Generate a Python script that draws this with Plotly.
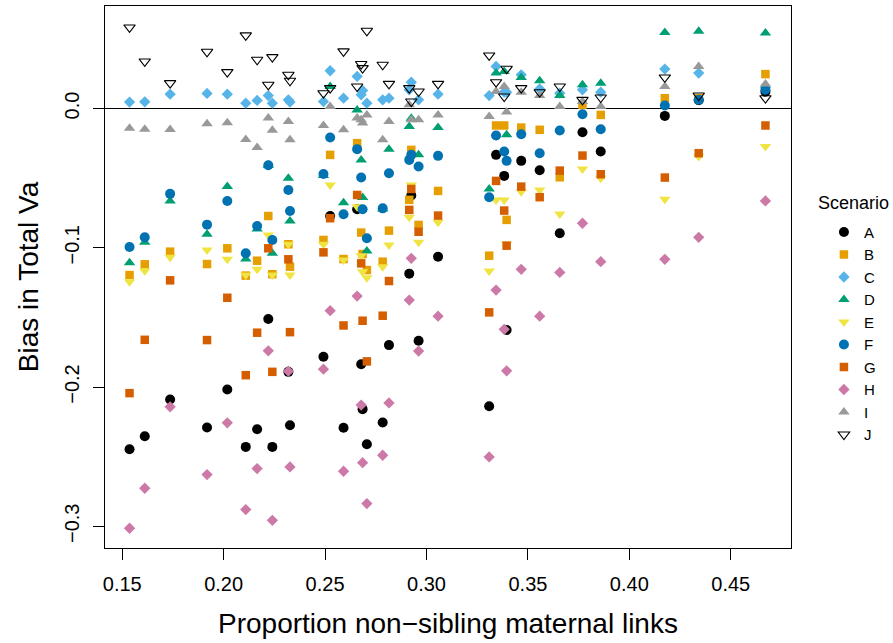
import plotly.graph_objects as go

# Proportion of non-sibling maternal links (shared x for every scenario)
x_prop = [0.1536, 0.1611, 0.1736, 0.1918, 0.2018, 0.2109, 0.2165, 0.2220, 0.2240,
          0.2319, 0.2327, 0.2492, 0.2525, 0.2591, 0.2658, 0.2678, 0.2685, 0.2706,
          0.2784, 0.2815, 0.2915, 0.2925, 0.2961, 0.3057, 0.3309, 0.3343, 0.3383,
          0.3395, 0.3467, 0.3558, 0.3657, 0.3769, 0.3859, 0.4175, 0.4342, 0.4671]

A = [-0.2447, -0.2353, -0.2090, -0.2291, -0.2018, -0.2430, -0.2303, -0.1512, -0.2430,
     -0.1891, -0.2274, -0.1783, -0.0772, -0.2293, -0.0724, -0.1836, -0.2159, -0.2411,
     -0.2255, -0.1699, -0.1186, -0.0625, -0.1668, -0.1064, -0.2138, -0.0333, -0.0484,
     -0.1591, -0.0376, -0.0443, -0.0896, -0.0170, -0.0309, -0.0053, 0.0060, 0.0120]
B = [-0.1196, -0.1119, -0.1028, -0.1117, -0.1004, -0.1200, -0.1093, -0.0772, -0.1190,
     -0.0975, -0.1136, -0.0944, -0.0333, -0.1081, -0.0249, -0.0891, -0.1045, -0.1160,
     -0.1100, -0.0877, -0.0656, -0.0297, -0.0836, -0.0592, -0.1057, -0.0122, -0.0122,
     -0.0800, -0.0137, -0.0153, -0.0494, 0.0026, -0.0046, 0.0074, 0.0074, 0.0247]
C = [0.0046, 0.0048, 0.0103, 0.0108, 0.0103, 0.0038, 0.0058, 0.0093, 0.0038,
     0.0062, 0.0046, 0.0050, 0.0271, 0.0074, 0.0230, 0.0098, 0.0130, 0.0038,
     0.0062, 0.0074, 0.0134, 0.0189, 0.0062, 0.0103, 0.0093, 0.0302, 0.0117,
     0.0117, 0.0242, 0.0140, 0.0110, 0.0134, 0.0117, 0.0283, 0.0254, 0.0150]
D = [-0.1107, -0.0961, -0.0664, -0.0903, -0.0561, -0.1081, -0.0865, -0.0407, -0.1040,
     -0.0501, -0.0808, -0.0482, 0.0158, -0.0676, -0.0010, -0.0369, -0.0640, -0.1023,
     -0.0721, -0.0292, -0.0129, -0.0070, -0.0333, -0.0137, -0.0578, 0.0254, 0.0266,
     -0.0189, 0.0223, 0.0199, 0.0093, 0.0170, 0.0182, 0.0546, 0.0554, 0.0542]
E = [-0.1244, -0.1165, -0.1069, -0.1016, -0.1083, -0.1196, -0.1155, -0.0908, -0.1196,
     -0.0975, -0.1196, -0.0975, -0.0549, -0.1088, -0.0705, -0.1057, -0.1172, -0.1215,
     -0.1136, -0.0980, -0.0781, -0.0549, -0.0961, -0.0817, -0.1167, -0.0657, -0.0657,
     -0.0973, -0.0597, -0.0585, -0.0757, -0.0434, -0.0501, -0.0652, -0.0345, -0.0273]
F = [-0.0994, -0.0925, -0.0613, -0.0834, -0.0664, -0.1040, -0.0844, -0.0407, -0.0944,
     -0.0585, -0.0736, -0.0470, -0.0208, -0.0760, -0.0292, -0.0496, -0.0724, -0.0932,
     -0.0717, -0.0465, -0.0369, -0.0333, -0.0417, -0.0340, -0.0637, -0.0194, -0.0309,
     -0.0376, -0.0185, -0.0321, -0.0158, -0.0041, -0.0149, 0.0022, 0.0062, 0.0134]
G = [-0.2044, -0.1661, -0.1234, -0.1663, -0.1359, -0.1915, -0.1610, -0.1004, -0.1891,
     -0.1083, -0.1606, -0.1033, -0.0788, -0.1558, -0.0621, -0.1112, -0.1524, -0.1816,
     -0.1488, -0.1239, -0.0728, -0.0578, -0.0885, -0.0769, -0.1464, -0.0520, -0.0733,
     -0.0985, -0.0561, -0.0637, -0.0446, -0.0338, -0.0472, -0.0496, -0.0321, -0.0122]
H = [-0.3014, -0.2727, -0.2142, -0.2629, -0.2257, -0.2880, -0.2586, -0.1740, -0.2957,
     -0.1886, -0.2574, -0.1872, -0.1452, -0.2605, -0.1347, -0.2130, -0.2543, -0.2837,
     -0.2490, -0.2114, -0.1376, -0.1076, -0.1742, -0.1491, -0.2502, -0.1304, -0.1586,
     -0.1884, -0.1155, -0.1491, -0.1177, -0.0824, -0.1100, -0.1083, -0.0925, -0.0664]
I = [-0.0141, -0.0149, -0.0151, -0.0110, -0.0103, -0.0223, -0.0280, -0.0069, -0.0156,
     -0.0093, -0.0225, -0.0122, 0.0014, -0.0153, -0.0069, -0.0081, -0.0105, -0.0046,
     -0.0225, -0.0093, 0.0026, -0.0081, -0.0081, -0.0046, -0.0058, 0.0122, 0.0158,
     -0.0026, 0.0117, 0.0093, 0.0014, 0.0050, 0.0014, 0.0158, 0.0302, 0.0175]
J = [0.0582, 0.0338, 0.0182, 0.0407, 0.0261, 0.0525, 0.0350, 0.0170, 0.0369,
     0.0242, 0.0199, 0.0110, 0.0146, 0.0410, 0.0158, 0.0319, 0.0290, 0.0558,
     0.0314, 0.0177, 0.0146, 0.0050, 0.0122, 0.0177, 0.0381, 0.0189, 0.0086,
     0.0285, 0.0146, 0.0117, 0.0158, 0.0062, 0.0079, 0.0223, 0.0093, 0.0074]

scenario_names = ["A", "B", "C", "D", "E", "F", "G", "H", "I", "J"]
scenario_values = [A, B, C, D, E, F, G, H, I, J]

x_ticks = [0.15, 0.20, 0.25, 0.30, 0.35, 0.40, 0.45]
y_ticks = [-0.3, -0.2, -0.1, 0.0]

styles = {
    "A": dict(symbol="circle", size=10, color="#000000"),
    "B": dict(symbol="square", size=8.5, color="#E69F00"),
    "C": dict(symbol="diamond", size=8.7, color="#56B4E9"),
    "D": dict(symbol="triangle-up", size=10, color="#009E73"),
    "E": dict(symbol="triangle-down", size=10, color="#F0E442"),
    "F": dict(symbol="circle", size=10, color="#0072B2"),
    "G": dict(symbol="square", size=8.5, color="#D55E00"),
    "H": dict(symbol="diamond", size=8.7, color="#CC79A7"),
    "I": dict(symbol="triangle-up", size=10, color="#999999"),
    "J": dict(symbol="triangle-down-open", size=10, color="#000000"),
}

FONT = "Liberation Sans, Arial, Helvetica, sans-serif"

fig = go.Figure()
for name, vals in zip(scenario_names, scenario_values):
    st = styles[name]
    marker = dict(symbol=st["symbol"], size=st["size"], color=st["color"])
    if name == "J":
        marker["line"] = dict(color="#000000", width=1.1)
    else:
        marker["line"] = dict(width=0)
    fig.add_trace(go.Scatter(x=x_prop, y=vals, mode="markers", name=name,
                             marker=marker))

fig.add_shape(type="line", xref="paper", x0=0, x1=1, yref="y", y0=0, y1=0,
              line=dict(color="#000000", width=1), layer="below")

axis_common = dict(showgrid=False, zeroline=False, showline=True, mirror=True,
                   linecolor="#000000", linewidth=1, ticks="outside", ticklen=11,
                   tickwidth=1, tickcolor="#000000",
                   tickfont=dict(family=FONT, size=20, color="#000000"))

fig.update_xaxes(range=[0.1415, 0.4797], tickvals=x_ticks, tickformat=".2f",
                 ticklabelstandoff=7, **axis_common)
fig.update_yaxes(range=[-0.3156, 0.0736], tickvals=y_ticks, tickformat=".1f",
                 tickangle=-90, ticklabelstandoff=6, **axis_common)

fig.add_annotation(text="Proportion non\u2212sibling maternal links", xref="paper",
                   yref="paper", x=0.5, y=-0.139, xanchor="center", yanchor="middle",
                   showarrow=False, font=dict(family=FONT, size=28, color="#000000"))
fig.add_annotation(text="Bias in Total Va", xref="paper", yref="paper", x=-0.112,
                   y=0.5, xanchor="center", yanchor="middle", textangle=-90,
                   showarrow=False, font=dict(family=FONT, size=28, color="#000000"))
# legend heading
fig.add_annotation(text="Scenario", xref="paper", yref="paper", x=1.037, y=0.6367,
                   xanchor="left", yanchor="middle", showarrow=False,
                   font=dict(family=FONT, size=18, color="#000000"))

fig.update_layout(
    width=893, height=643,
    margin=dict(l=105, r=102, t=6, b=95),
    paper_bgcolor="white", plot_bgcolor="white",
    font=dict(family=FONT, color="#000000"),
    legend=dict(font=dict(family=FONT, size=15), x=1.048, y=0.613,
                xanchor="left", yanchor="top", bgcolor="rgba(0,0,0,0)",
                itemclick=False),
)

fig.write_html("out.html",
               config={"displayModeBar": False},
               post_script="document.body.style.margin='0';"
                           "document.body.style.overflow='hidden';")
